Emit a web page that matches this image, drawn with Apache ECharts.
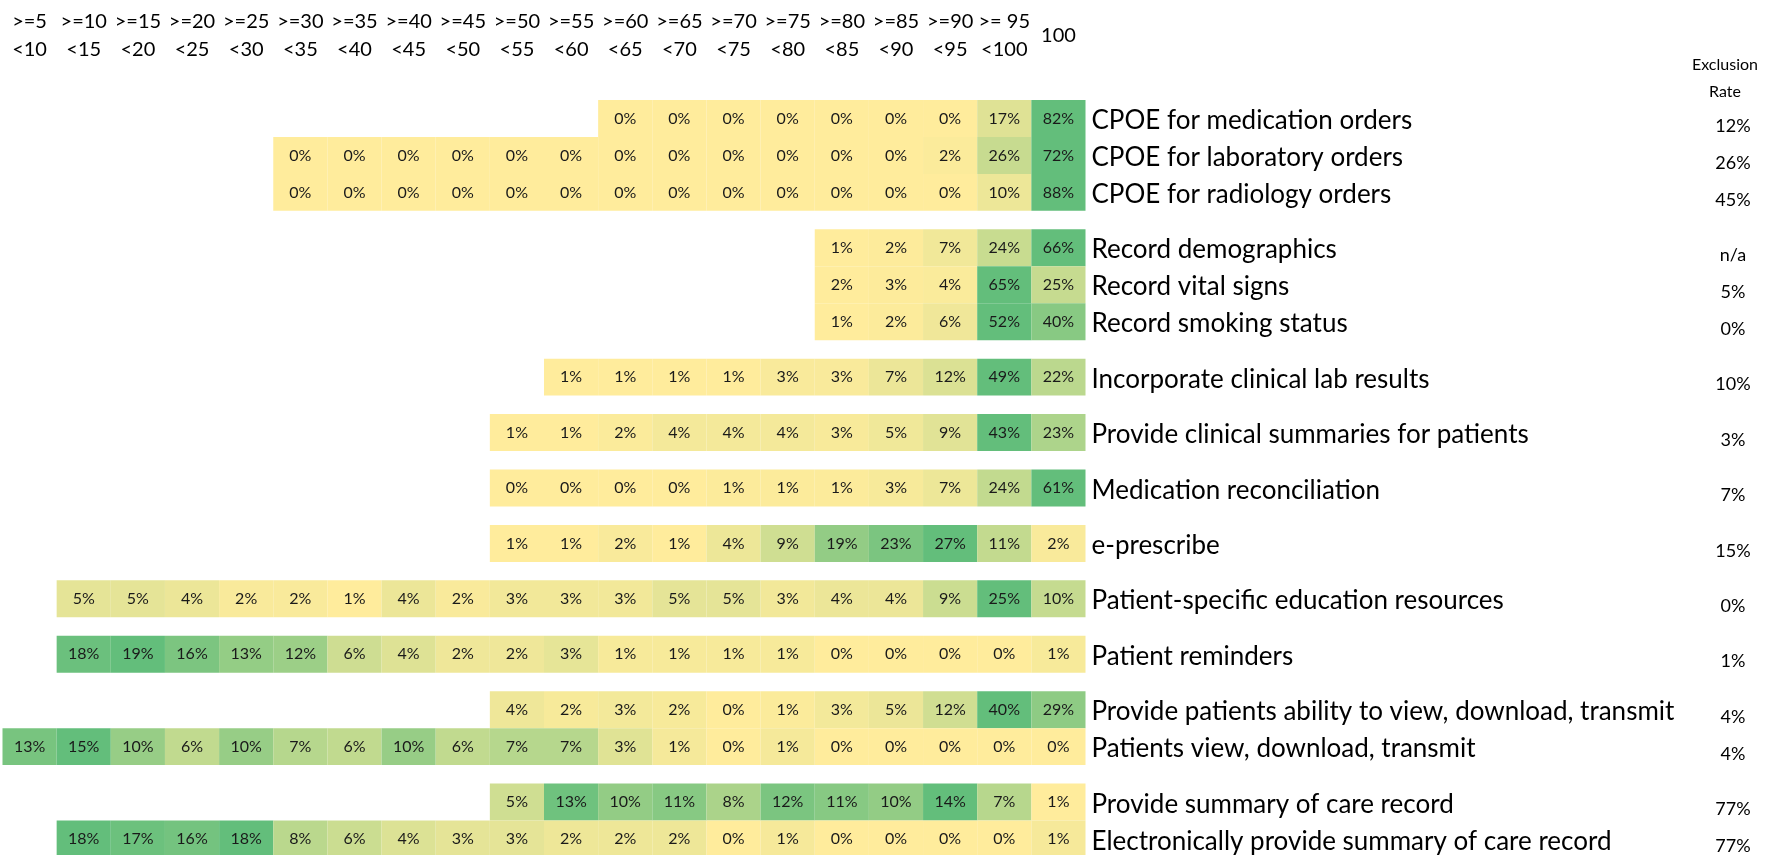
<!DOCTYPE html>
<html>
<head>
<meta charset="utf-8">
<script src="https://cdn.jsdelivr.net/npm/echarts@6/dist/echarts.min.js"></script>
<style>
  html, body { margin: 0; padding: 0; background: #fff; }
  #chart { width: 1775px; height: 855px; }
</style>
</head>
<body>
<div id="chart"></div>
<script>
// score buckets (column headers)
var bins = ['>=5\n<10', '>=10\n<15', '>=15\n<20', '>=20\n<25', '>=25\n<30', '>=30\n<35',
  '>=35\n<40', '>=40\n<45', '>=45\n<50', '>=50\n<55', '>=55\n<60', '>=60\n<65',
  '>=65\n<70', '>=70\n<75', '>=75\n<80', '>=80\n<85', '>=85\n<90', '>=90\n<95',
  '>= 95\n<100', '100'];

var measures = [
  'CPOE for medication orders',
  'CPOE for laboratory orders',
  'CPOE for radiology orders',
  'Record demographics',
  'Record vital signs',
  'Record smoking status',
  'Incorporate clinical lab results',
  'Provide clinical summaries for patients',
  'Medication reconciliation',
  'e-prescribe',
  'Patient-specific education resources',
  'Patient reminders',
  'Provide patients ability to view, download, transmit',
  'Patients view, download, transmit',
  'Provide summary of care record',
  'Electronically provide summary of care record'
];

var exclusionRate = ['12%', '26%', '45%', 'n/a', '5%', '0%', '10%', '3%', '7%', '15%',
  '0%', '1%', '4%', '4%', '77%', '77%'];

// rows in the same block sit together, blocks are split by a half-row gap
var block = [0, 0, 0, 1, 1, 1, 2, 3, 4, 5, 6, 7, 8, 8, 9, 9];

// index of the first bucket shown for each measure
var firstBin = [11, 5, 5, 15, 15, 15, 10, 9, 9, 9, 1, 1, 9, 0, 9, 1];

// share of providers (%) per bucket, starting at firstBin
var pct = [
  [0, 0, 0, 0, 0, 0, 0, 17, 82],
  [0, 0, 0, 0, 0, 0, 0, 0, 0, 0, 0, 0, 2, 26, 72],
  [0, 0, 0, 0, 0, 0, 0, 0, 0, 0, 0, 0, 0, 10, 88],
  [1, 2, 7, 24, 66],
  [2, 3, 4, 65, 25],
  [1, 2, 6, 52, 40],
  [1, 1, 1, 1, 3, 3, 7, 12, 49, 22],
  [1, 1, 2, 4, 4, 4, 3, 5, 9, 43, 23],
  [0, 0, 0, 0, 1, 1, 1, 3, 7, 24, 61],
  [1, 1, 2, 1, 4, 9, 19, 23, 27, 11, 2],
  [5, 5, 4, 2, 2, 1, 4, 2, 3, 3, 3, 5, 5, 3, 4, 4, 9, 25, 10],
  [18, 19, 16, 13, 12, 6, 4, 2, 2, 3, 1, 1, 1, 1, 0, 0, 0, 0, 1],
  [4, 2, 3, 2, 0, 1, 3, 5, 12, 40, 29],
  [13, 15, 10, 6, 10, 7, 6, 10, 6, 7, 7, 3, 1, 0, 1, 0, 0, 0, 0, 0],
  [5, 13, 10, 11, 8, 12, 11, 10, 14, 7, 1],
  [18, 17, 16, 18, 8, 6, 4, 3, 3, 2, 2, 2, 0, 1, 0, 0, 0, 0, 1]
];

var FONT = 'Lato';

// y position (row units) of each row centre
var rowCenter = measures.map(function (m, i) { return i + 0.5 * block[i] + 0.5; });
var yMax = rowCenter[rowCenter.length - 1] + 0.5;

// text rows sit a touch below the cell centres in the original
var namePos = rowCenter.map(function (c) { return c + 0.06; });
var exclPos = rowCenter.map(function (c) { return c + 0.2; });

// colour scale runs from each row's min to its max (like excel conditional format)
var cells = [];
pct.forEach(function (row, i) {
  var lo = Math.min.apply(null, row), hi = Math.max.apply(null, row);
  row.forEach(function (v, j) {
    cells.push([firstBin[i] + j, rowCenter[i], v, hi > lo ? (v - lo) / (hi - lo) : 0]);
  });
});

function lookup(positions, texts) {
  return function (v) {
    for (var i = 0; i < positions.length; i++) {
      if (Math.abs(positions[i] - v) < 1e-6) return texts[i];
    }
    return '';
  };
}

var chart = echarts.init(document.getElementById('chart'));
chart.setOption({
  animation: false,
  backgroundColor: '#fff',
  title: {
    text: 'Exclusion\nRate',
    left: 1720,
    top: 46,
    textAlign: 'center',
    textStyle: { fontFamily: FONT, fontSize: 16, fontWeight: 'normal', lineHeight: 27, color: '#000' }
  },
  grid: {
    left: 2.5, top: 100, width: 1083, height: yMax * 36.95,
    containLabel: false, outerBoundsMode: 'none'
  },
  xAxis: {
    type: 'category',
    data: bins,
    position: 'top',
    axisLine: { show: false },
    axisTick: { show: false },
    splitLine: { show: false },
    axisLabel: {
      interval: 0, fontFamily: FONT, fontSize: 20, lineHeight: 28, color: '#000',
      verticalAlign: 'middle', margin: 64
    }
  },
  yAxis: [{
    type: 'value', inverse: true, min: 0, max: yMax, position: 'right',
    axisLine: { show: false }, axisTick: { show: false }, splitLine: { show: false },
    axisLabel: {
      customValues: namePos,
      formatter: lookup(namePos, measures),
      align: 'left', margin: 6, fontFamily: FONT, fontSize: 26, color: '#000'
    }
  }, {
    type: 'value', inverse: true, min: 0, max: yMax, position: 'right', offset: 647.5,
    axisLine: { show: false }, axisTick: { show: false }, splitLine: { show: false },
    axisLabel: {
      customValues: exclPos,
      formatter: lookup(exclPos, exclusionRate),
      align: 'center', margin: 0, fontFamily: FONT, fontSize: 18, color: '#000'
    }
  }],
  visualMap: {
    type: 'continuous', show: false, seriesIndex: 0, dimension: 3, min: 0, max: 1,
    inRange: { color: ['#FFEC9C', '#63BE7B'] }
  },
  series: [{
    type: 'custom',
    coordinateSystem: 'cartesian2d',
    data: cells,
    encode: { x: 0, y: 1 },
    renderItem: function (params, api) {
      var c = api.coord([api.value(0), api.value(1)]);
      var s = api.size([1, 1]);
      var w = s[0], h = Math.abs(s[1]);
      return {
        type: 'group',
        children: [{
          type: 'rect',
          shape: { x: c[0] - w / 2, y: c[1] - h / 2, width: w, height: h },
          style: { fill: api.visual('color') }
        }, {
          type: 'text',
          x: c[0], y: c[1],
          style: {
            text: api.value(2) + '%', fill: '#1a1a1a',
            fontFamily: FONT, fontSize: 16, align: 'center', verticalAlign: 'middle'
          }
        }]
      };
    }
  }]
});
</script>
</body>
</html>
